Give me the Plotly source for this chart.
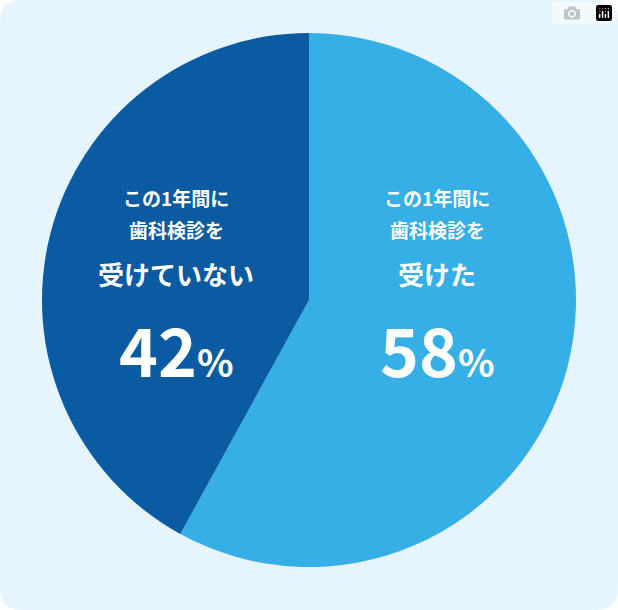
import plotly.graph_objects as go

labels = ["受けた", "受けていない"]
values = [58, 42]
colors = ["#36aee6", "#0a5ba1"]
line1 = "この1年間に"
line2 = "歯科検診を"

W, H = 618, 610
fig = go.Figure(go.Pie(
    labels=labels, values=values, sort=False, direction="clockwise", rotation=0,
    marker=dict(colors=colors, line=dict(width=0)), textinfo="none", hoverinfo="skip",
    domain=dict(x=[42 / W, 576 / W], y=[(H - 567) / H, (H - 33) / H]),
))

rx, ry = 22 / W, 22 / H
path = (f"M {rx} 0 L {1-rx} 0 Q 1 0 1 {ry} L 1 {1-ry} Q 1 1 {1-rx} 1 "
        f"L {rx} 1 Q 0 1 0 {1-ry} L 0 {ry} Q 0 0 {rx} 0 Z")
fig.add_shape(type="path", path=path, xref="paper", yref="paper",
              fillcolor="#e6f5fd", line=dict(width=0), layer="below")

font = "Noto Sans CJK JP"
def ann(x, y, text, size):
    fig.add_annotation(x=x / W, y=1 - y / H, xref="paper", yref="paper", text=text,
                       xanchor="center", yanchor="middle", showarrow=False,
                       font=dict(family=font, size=size, color="white"))

for cx, pct, lbl in [(437, values[0], labels[0]), (176, values[1], labels[1])]:
    ann(cx, 198, f"<b>{line1}</b>", 19)
    ann(cx, 229, f"<b>{line2}</b>", 19)
    ann(cx, 273, f"<b>{lbl}</b>", 26)
    ann(cx, 348, f"<b>{pct}<span style='font-size:38px'>%</span></b>", 66)

fig.update_layout(width=W, height=H, margin=dict(l=0, r=0, t=0, b=0),
                  paper_bgcolor="white", showlegend=False)
fig.write_html("out.html", post_script="document.body.style.margin='0';")
